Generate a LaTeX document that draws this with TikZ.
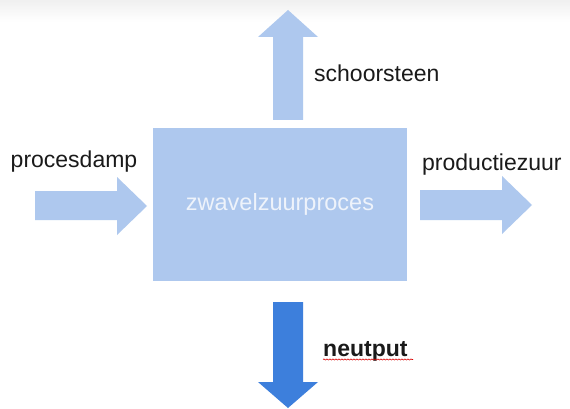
\documentclass[tikz,border=0pt]{standalone}
\usepackage{fontspec}
\setmainfont{Liberation Sans}
\usetikzlibrary{decorations.pathmorphing}
\definecolor{lblue}{HTML}{AEC8EE}
\definecolor{dblue}{HTML}{3D7FDC}
\definecolor{boxtext}{HTML}{EEF3FB}
\definecolor{txt}{HTML}{1A1A1A}
\tikzset{
  lbl/.style={inner sep=0pt, text=txt, font=\fontsize{23}{27}\selectfont},
  blockarrow/.style={fill=lblue, draw=none},
}
\begin{document}
\begin{tikzpicture}[x=1pt,y=-1pt]
\useasboundingbox (0,0) rectangle (570,409);
\fill[white] (0,0) rectangle (570,409);
\shade[top color=black!6, bottom color=white] (0,0) rectangle (570,22);
% central box
\node[fill=lblue, minimum width=254pt, minimum height=153pt, inner sep=0pt,
      text=boxtext, font=\fontsize{23.5}{27}\selectfont] (box) at (280,204.5) {zwavelzuurproces};
% left arrow (procesdamp)
\fill[blockarrow] (35,191) -- (117,191) -- (117,177) -- (147,206) -- (117,235) -- (117,220) -- (35,220) -- cycle;
% right arrow (productiezuur)
\fill[blockarrow] (420,190) -- (502,190) -- (502,176) -- (532,205) -- (502,234) -- (502,220) -- (420,220) -- cycle;
% top arrow (schoorsteen)
\fill[blockarrow] (273,120) -- (273,37) -- (258,37) -- (288,10) -- (318,37) -- (303,37) -- (303,120) -- cycle;
% bottom arrow (neutput)
\fill[dblue] (273,302) -- (303,302) -- (303,382) -- (318,382) -- (288,408) -- (258,382) -- (273,382) -- cycle;
% labels
\node[lbl] (procesdamp) at (74,162) {procesdamp};
\node[lbl, anchor=west] (schoorsteen) at (314,73) {schoorsteen};
\node[lbl, anchor=west] (productiezuur) at (422,165) {productiezuur};
\node[lbl, anchor=west, font=\fontsize{23}{27}\selectfont\bfseries] (neutput) at (323,351) {neutput};
\coordinate (ul1) at (323,359.5);
\coordinate (ul2) at (413,359.5);
\draw[red!85!black, line width=0.6pt, decorate, decoration={snake, amplitude=0.6pt, segment length=3pt}] (ul1) -- (ul2);
\end{tikzpicture}
\end{document}
